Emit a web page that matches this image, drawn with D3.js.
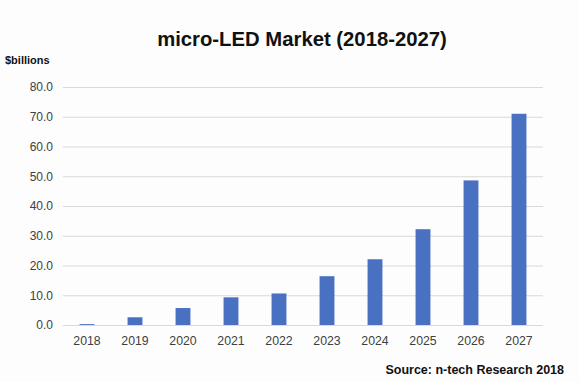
<!DOCTYPE html>
<html>
<head>
<meta charset="utf-8">
<script src="https://cdn.jsdelivr.net/npm/d3@7"></script>
<style>
	body { margin: 0; background: #fdfdfd; }
	svg { display: block; font-family: "Liberation Sans", Arial, sans-serif; }
</style>
</head>
<body>
<svg id="chart"></svg>
<script>
// Chart data
var years = ["2018", "2019", "2020", "2021", "2022", "2023", "2024", "2025", "2026", "2027"];
var values = [0.3, 2.6, 5.7, 9.3, 10.6, 16.4, 22.1, 32.2, 48.6, 71.0];
var yTicks = [0, 10, 20, 30, 40, 50, 60, 70, 80];

// svg attributes
var svg_width = 579, svg_height = 382;
var margin = { top: 87, right: 36, bottom: 57, left: 63 };
var width = svg_width - margin.left - margin.right;
var height = svg_height - margin.top - margin.bottom;

var x = d3.scaleBand().domain(years).range([0, width]).paddingInner(0.69).paddingOuter(0.345);
var y = d3.scaleLinear().domain([0, 80]).range([height, 0]);

var svg = d3.select("#chart")
	.attr("width", svg_width)
	.attr("height", svg_height);

svg.append("rect")
	.attr("width", svg_width)
	.attr("height", svg_height)
	.attr("fill", "#fdfdfd");

var g = svg.append("g")
	.attr("transform", "translate(" + margin.left + "," + margin.top + ")");

// gridlines + y labels
var yAxis = g.append("g")
	.attr("class", "y_axis")
	.call(d3.axisLeft(y)
		.tickValues(yTicks)
		.tickSize(-width)
		.tickPadding(10)
		.tickFormat(d3.format(".1f")));
yAxis.select(".domain").remove();
yAxis.selectAll("line").attr("stroke", "#d9d9d9").attr("stroke-width", 1);
yAxis.selectAll("text")
	.attr("fill", "#404040")
	.style("font-size", "12px");

// x labels
var xAxis = g.append("g")
	.attr("class", "x_axis")
	.attr("transform", "translate(0," + height + ")")
	.call(d3.axisBottom(x).tickSize(0).tickPadding(11));
xAxis.select(".domain").remove();
xAxis.selectAll("text")
	.attr("fill", "#404040")
	.style("font-size", "12.3px");

// bars
g.selectAll(".bar")
	.data(values)
	.enter().append("rect")
	.attr("class", "bar")
	.attr("x", function (d, i) { return x(years[i]); })
	.attr("width", x.bandwidth())
	.attr("y", function (d) { return y(d); })
	.attr("height", function (d) { return height - y(d); })
	.attr("fill", "#4a70c2");

// titles
svg.append("text")
	.attr("x", 302)
	.attr("y", 46)
	.attr("text-anchor", "middle")
	.attr("fill", "#111")
	.style("font-size", "20.3px")
	.style("font-weight", "bold")
	.text("micro-LED Market (2018-2027)");

svg.append("text")
	.attr("x", 5)
	.attr("y", 64)
	.attr("fill", "#111")
	.style("font-size", "11px")
	.style("font-weight", "bold")
	.text("$billions");

svg.append("text")
	.attr("x", 564)
	.attr("y", 374)
	.attr("text-anchor", "end")
	.attr("fill", "#111")
	.style("font-size", "12.5px")
	.style("font-weight", "bold")
	.text("Source: n-tech Research 2018");
</script>
</body>
</html>
